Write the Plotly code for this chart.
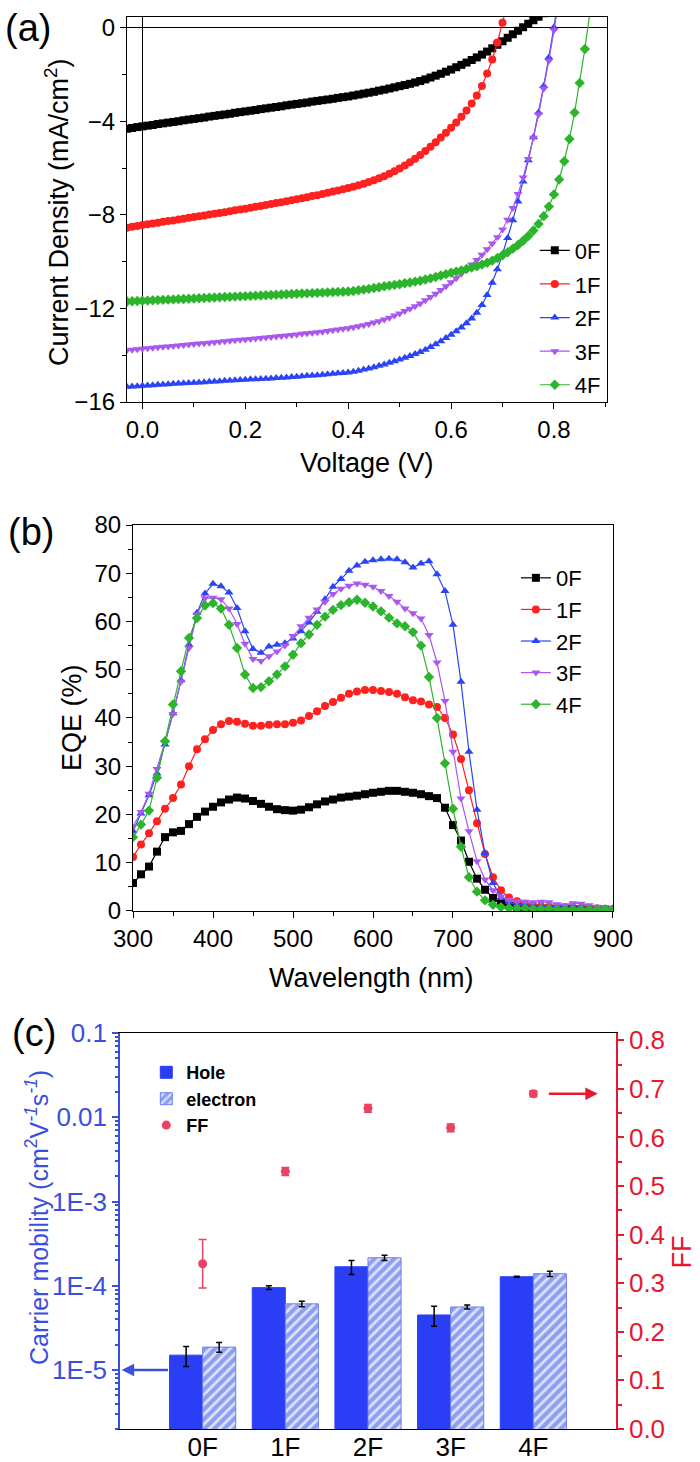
import plotly.graph_objects as go

FONT = 'Liberation Sans, Arial, sans-serif'

SAMPLES = ['0F', '1F', '2F', '3F', '4F']
COLORS = {'0F': '#000000', '1F': '#ff2020', '2F': '#2a45f5', '3F': '#a957ef', '4F': '#2db42d'}
SYMBOLS = {'0F': 'square', '1F': 'circle', '2F': 'triangle-up', '3F': 'triangle-down', '4F': 'diamond'}

# ---- (a) J-V curves ----
VOLTAGE = [-0.03, -0.02, -0.01, 0.00, 0.01, 0.02, 0.03, 0.04, 0.05, 0.06, 0.07, 0.08, 0.09,
           0.10, 0.11, 0.12, 0.13, 0.14, 0.15, 0.16, 0.17, 0.18, 0.19, 0.20, 0.21, 0.22, 0.23,
           0.24, 0.25, 0.26, 0.27, 0.28, 0.29, 0.30, 0.31, 0.32, 0.33, 0.34, 0.35, 0.36, 0.37,
           0.38, 0.39, 0.40, 0.41, 0.42, 0.43, 0.44, 0.45, 0.46, 0.47, 0.48, 0.49, 0.50, 0.51,
           0.52, 0.53, 0.54, 0.55, 0.56, 0.57, 0.58, 0.59, 0.60, 0.61, 0.62, 0.63, 0.64, 0.65,
           0.66, 0.67, 0.68, 0.69, 0.70, 0.71, 0.72, 0.73, 0.74, 0.75, 0.76, 0.77, 0.78, 0.79,
           0.80, 0.81, 0.82, 0.83, 0.84, 0.85, 0.86, 0.87]

J_0F = [-4.31, -4.28, -4.24, -4.21, -4.18, -4.15, -4.11, -4.08, -4.05, -4.02, -3.99, -3.95, -3.92,
        -3.89, -3.86, -3.83, -3.79, -3.76, -3.73, -3.70, -3.67, -3.63, -3.60, -3.57, -3.54, -3.51,
        -3.47, -3.44, -3.41, -3.38, -3.35, -3.31, -3.28, -3.25, -3.22, -3.19, -3.15, -3.12, -3.09,
        -3.06, -3.03, -2.99, -2.96, -2.93, -2.89, -2.85, -2.81, -2.77, -2.73, -2.68, -2.64, -2.59,
        -2.54, -2.49, -2.44, -2.39, -2.33, -2.27, -2.20, -2.12, -2.04, -1.96, -1.87, -1.78, -1.68,
        -1.58, -1.48, -1.37, -1.26, -1.14, -1.01, -0.87, -0.72, -0.57, -0.42, -0.27, -0.12, 0.03,
        0.18, 0.33, 0.48, 0.63]

J_1F = [-8.54, -8.50, -8.47, -8.43, -8.40, -8.36, -8.33, -8.29, -8.26, -8.23, -8.19, -8.16, -8.12,
        -8.09, -8.05, -8.02, -7.98, -7.95, -7.91, -7.88, -7.84, -7.80, -7.77, -7.73, -7.69, -7.65,
        -7.61, -7.57, -7.53, -7.49, -7.45, -7.41, -7.37, -7.33, -7.28, -7.24, -7.19, -7.15, -7.10,
        -7.05, -7.00, -6.95, -6.90, -6.85, -6.79, -6.73, -6.66, -6.59, -6.51, -6.43, -6.34, -6.24,
        -6.13, -6.01, -5.88, -5.74, -5.59, -5.43, -5.26, -5.08, -4.89, -4.69, -4.48, -4.27, -4.04,
        -3.80, -3.53, -3.23, -2.89, -2.48, -1.95, -1.35, -0.62, 0.22, 1.10]

J_2F = [-15.35, -15.34, -15.32, -15.30, -15.29, -15.28, -15.26, -15.25, -15.24, -15.22, -15.21,
        -15.20, -15.18, -15.17, -15.16, -15.15, -15.13, -15.12, -15.11, -15.09, -15.08, -15.07,
        -15.06, -15.05, -15.03, -15.02, -15.01, -15.00, -14.99, -14.97, -14.96, -14.95, -14.93,
        -14.92, -14.90, -14.88, -14.86, -14.85, -14.83, -14.81, -14.79, -14.77, -14.76, -14.74,
        -14.70, -14.66, -14.61, -14.56, -14.51, -14.45, -14.39, -14.32, -14.25, -14.18, -14.11,
        -14.03, -13.95, -13.86, -13.76, -13.65, -13.53, -13.40, -13.26, -13.12, -12.97, -12.81,
        -12.63, -12.43, -12.18, -11.85, -11.42, -10.90, -10.32, -9.68, -8.98, -8.22, -7.42, -6.57,
        -5.66, -4.68, -3.62, -2.48, -1.26, 0.03, 1.40]

J_3F = [-13.78, -13.76, -13.74, -13.72, -13.70, -13.68, -13.66, -13.64, -13.62, -13.60, -13.58,
        -13.56, -13.54, -13.52, -13.50, -13.48, -13.46, -13.44, -13.42, -13.40, -13.38, -13.36,
        -13.34, -13.32, -13.30, -13.28, -13.26, -13.24, -13.22, -13.20, -13.17, -13.15, -13.13,
        -13.11, -13.08, -13.06, -13.04, -13.01, -12.99, -12.96, -12.93, -12.90, -12.87, -12.84,
        -12.80, -12.76, -12.71, -12.66, -12.60, -12.54, -12.47, -12.39, -12.30, -12.21, -12.11,
        -12.01, -11.90, -11.78, -11.65, -11.51, -11.37, -11.21, -11.05, -10.88, -10.70, -10.51,
        -10.32, -10.12, -9.92, -9.70, -9.47, -9.22, -8.95, -8.62, -8.20, -7.70, -7.10, -6.40,
        -5.60, -4.70, -3.70, -2.60, -1.40, -0.10, 1.25]

J_4F = [-11.70, -11.69, -11.68, -11.67, -11.66, -11.65, -11.64, -11.63, -11.62, -11.61, -11.60,
        -11.59, -11.58, -11.57, -11.56, -11.55, -11.54, -11.53, -11.52, -11.51, -11.50, -11.49,
        -11.48, -11.47, -11.46, -11.45, -11.44, -11.43, -11.42, -11.41, -11.40, -11.39, -11.38,
        -11.37, -11.36, -11.35, -11.34, -11.33, -11.32, -11.31, -11.30, -11.29, -11.28, -11.27,
        -11.25, -11.22, -11.19, -11.16, -11.12, -11.09, -11.05, -11.02, -10.99, -10.96, -10.92,
        -10.89, -10.85, -10.81, -10.76, -10.71, -10.65, -10.59, -10.53, -10.47, -10.42, -10.37,
        -10.31, -10.25, -10.19, -10.12, -10.04, -9.95, -9.84, -9.72, -9.59, -9.44, -9.28, -9.10,
        -8.90, -8.66, -8.38, -8.05, -7.64, -7.12, -6.48, -5.70, -4.75, -3.62, -2.35, -0.90, 0.70]

# ---- (b) EQE spectra ----
WAVELENGTH = [300, 310, 320, 330, 340, 350, 360, 370, 380, 390, 400, 410, 420, 430, 440, 450,
              460, 470, 480, 490, 500, 510, 520, 530, 540, 550, 560, 570, 580, 590, 600, 610,
              620, 630, 640, 650, 660, 670, 680, 690, 700, 710, 720, 730, 740, 750, 760, 770,
              780, 790, 800, 810, 820, 830, 840, 850, 860, 870, 880, 890, 900]

EQE_0F = [5.8, 7.6, 9.2, 12.3, 15.3, 16.3, 16.6, 18.0, 19.5, 20.6, 21.6, 22.5, 23.1, 23.5, 23.3,
          22.8, 22.2, 21.6, 21.1, 20.9, 20.8, 21.0, 21.5, 22.1, 22.7, 23.1, 23.5, 23.7, 23.9, 24.2,
          24.5, 24.7, 24.9, 24.9, 24.7, 24.5, 24.2, 23.8, 23.4, 21.4, 17.8, 14.6, 10.2, 6.7, 4.4,
          2.7, 1.6, 1.1, 0.8, 0.7, 0.6, 0.5, 0.5, 0.4, 0.4, 0.4, 0.3, 0.3, 0.3, 0.2, 0.2]
EQE_1F = [11.2, 13.8, 16.1, 18.6, 21.2, 23.4, 26.2, 30.0, 33.5, 35.6, 37.5, 38.7, 39.4, 39.2, 38.8,
          38.4, 38.4, 38.6, 38.7, 38.7, 39.0, 39.5, 40.4, 41.4, 42.5, 43.3, 44.2, 45.0, 45.5, 45.8,
          45.8, 45.6, 45.4, 45.0, 44.3, 43.7, 43.4, 42.8, 42.3, 40.0, 36.6, 31.5, 25.0, 18.2, 11.8,
          7.0, 4.3, 2.8, 2.0, 1.5, 1.2, 1.0, 0.9, 0.8, 0.7, 0.7, 0.6, 0.5, 0.5, 0.4, 0.4]
EQE_2F = [16.5, 20.2, 24.0, 28.5, 34.5, 41.0, 47.8, 55.2, 61.8, 65.8, 67.8, 67.3, 66.0, 62.8, 58.0,
          54.3, 53.5, 54.8, 55.2, 55.5, 56.5, 58.0, 59.8, 62.0, 64.6, 67.2, 68.8, 70.5, 71.6, 72.4,
          72.7, 72.9, 73.0, 72.9, 72.3, 71.2, 72.0, 72.5, 69.8, 66.3, 59.3, 47.5, 33.0, 21.0, 12.0,
          5.8, 2.8, 1.8, 1.4, 1.2, 1.1, 1.0, 0.9, 0.8, 0.8, 0.9, 0.8, 0.6, 0.5, 0.5, 0.4]
EQE_3F = [17.5, 20.5, 24.3, 29.4, 35.0, 40.8, 47.5, 54.5, 61.5, 64.8, 64.9, 64.6, 62.7, 59.5, 55.4,
          52.2, 51.8, 52.8, 53.8, 55.0, 57.0, 59.0, 60.8, 62.5, 64.1, 65.7, 66.8, 67.4, 67.9, 67.6,
          67.2, 66.3, 65.3, 64.1, 62.7, 61.7, 60.6, 57.2, 51.5, 43.5, 33.0, 23.3, 16.5, 10.3, 6.5,
          4.3, 3.0, 2.3, 2.0, 1.9, 1.8, 1.9, 1.8, 1.4, 1.2, 1.6, 1.5, 1.2, 0.9, 0.8, 0.6]
EQE_4F = [15.3, 17.9, 20.8, 27.6, 35.2, 42.8, 49.7, 56.6, 60.7, 63.3, 63.8, 62.7, 59.3, 54.5, 49.0,
          46.2, 46.4, 47.6, 49.0, 50.7, 53.1, 55.5, 57.3, 59.3, 61.0, 62.4, 63.4, 64.0, 64.5, 63.9,
          63.1, 62.1, 60.8, 59.6, 59.0, 57.8, 55.0, 48.5, 40.0, 30.6, 21.2, 13.3, 7.0, 4.0, 2.2,
          1.3, 0.8, 0.6, 0.5, 0.5, 0.4, 0.4, 0.4, 0.3, 0.3, 0.3, 0.3, 0.3, 0.3, 0.3, 0.3]

# ---- (c) mobility and FF ----
HOLE = [1.5e-5, 9.5e-5, 1.68e-4, 4.5e-5, 1.28e-4]
HOLE_ERR = [0.4e-5, 0.5e-5, 0.32e-4, 1.2e-5, 0.02e-4]
ELECTRON = [1.87e-5, 6.1e-5, 2.15e-4, 5.6e-5, 1.39e-4]
ELECTRON_ERR = [0.25e-5, 0.45e-5, 0.15e-4, 0.3e-5, 0.1e-4]
FF = [0.34, 0.53, 0.66, 0.62, 0.69]
FF_ERR = [0.05, 0.008, 0.008, 0.008, 0.006]

BLUE_AX = '#3a4fe0'
RED_AX = '#e8182e'
FF_COLOR = '#ea4262'

fig = go.Figure()

jv = {'0F': J_0F, '1F': J_1F, '2F': J_2F, '3F': J_3F, '4F': J_4F}
for name in SAMPLES:
    j = jv[name]
    fig.add_trace(go.Scatter(
        x=VOLTAGE[:len(j)], y=j, name=name, mode='lines+markers',
        xaxis='x', yaxis='y', legend='legend', legendgroup='a' + name,
        line=dict(color=COLORS[name], width=1.2),
        marker=dict(symbol=SYMBOLS[name], color=COLORS[name], size=8),
    ))

eqe = {'0F': EQE_0F, '1F': EQE_1F, '2F': EQE_2F, '3F': EQE_3F, '4F': EQE_4F}
for name in SAMPLES:
    fig.add_trace(go.Scatter(
        x=WAVELENGTH, y=eqe[name], name=name, mode='lines+markers',
        xaxis='x2', yaxis='y2', legend='legend2', legendgroup='b' + name,
        line=dict(color=COLORS[name], width=1.2),
        marker=dict(symbol=SYMBOLS[name], color=COLORS[name], size=8),
    ))

fig.add_trace(go.Bar(
    x=SAMPLES, y=HOLE, name='Hole', xaxis='x3', yaxis='y3', legend='legend3',
    marker=dict(color='#2a3ff5', line=dict(color='#2a3ff5', width=1)),
    error_y=dict(type='data', array=HOLE_ERR, color='black', thickness=1.5, width=3),
))
fig.add_trace(go.Bar(
    x=SAMPLES, y=ELECTRON, name='electron', xaxis='x3', yaxis='y3', legend='legend3',
    marker=dict(color='#8d9ef0', line=dict(color='#6a7ff0', width=1),
                pattern=dict(shape='/', bgcolor='#8d9ef0', fgcolor='#dde2fb', size=7, solidity=0.4)),
    error_y=dict(type='data', array=ELECTRON_ERR, color='black', thickness=1.5, width=3),
))
fig.add_trace(go.Scatter(
    x=SAMPLES, y=FF, name='FF', mode='markers', xaxis='x3', yaxis='y4', legend='legend3',
    marker=dict(color=FF_COLOR, size=9),
    error_y=dict(type='data', array=FF_ERR, color=FF_COLOR, thickness=1.5, width=4),
))

tickfont = dict(family=FONT, size=24, color='black')
base_ax = dict(showgrid=False, showline=True, linecolor='black', linewidth=1.2,
               ticks='outside', ticklen=6, tickwidth=1.2, tickcolor='black', tickfont=tickfont)

minor_log = [m * 10.0 ** e for e in range(-6, -1) for m in range(2, 10)]

fig.update_layout(
    width=700, height=1462, autosize=False, margin=dict(l=0, r=0, t=0, b=0),
    template='none', paper_bgcolor='white', plot_bgcolor='white',
    font=dict(family=FONT, color='black'),
    barmode='group', bargap=0.2, bargroupgap=0,
    xaxis=dict(base_ax, domain=[0.1814, 0.8671], anchor='y', range=[-0.03, 0.903],
               tick0=0, dtick=0.2, tickformat='.1f', mirror=True,
               minor=dict(dtick=0.1, ticks='outside', ticklen=4, tickcolor='black'),
               zeroline=True, zerolinecolor='black', zerolinewidth=1.2),
    yaxis=dict(base_ax, domain=[0.725, 0.9884], anchor='x', range=[-16, 0.47],
               tick0=0, dtick=4, mirror=True,
               minor=dict(dtick=2, ticks='outside', ticklen=4, tickcolor='black'),
               zeroline=True, zerolinecolor='black', zerolinewidth=1.2),
    xaxis2=dict(base_ax, domain=[0.19, 0.8757], anchor='y2', range=[300, 900],
                dtick=100, mirror=True, zeroline=False,
                minor=dict(dtick=50, ticks='outside', ticklen=4, tickcolor='black')),
    yaxis2=dict(base_ax, domain=[0.3769, 0.6409], anchor='x2', range=[0, 80],
                dtick=10, mirror=True, zeroline=False,
                minor=dict(dtick=5, ticks='outside', ticklen=4, tickcolor='black')),
    xaxis3=dict(showgrid=False, showline=True, linecolor='black', linewidth=1.2, mirror=True,
                domain=[0.1714, 0.88], anchor='y3', type='category', range=[-1, 5],
                ticks='', ticklabelstandoff=-5,
                tickfont=dict(family=FONT, size=26, color='black')),
    yaxis3=dict(showgrid=False, showline=True, linecolor=BLUE_AX, linewidth=1.5,
                domain=[0.0226, 0.2934], anchor='x3', type='log', range=[-5.7, -1],
                tickvals=[1e-5, 1e-4, 1e-3, 1e-2, 1e-1],
                ticktext=['1E-5', '1E-4', '1E-3', '0.01', '0.1'],
                ticks='outside', ticklen=6, tickwidth=1.5, tickcolor=BLUE_AX,
                tickfont=dict(family=FONT, size=26, color=BLUE_AX),
                minor=dict(tickvals=minor_log, ticks='outside', ticklen=3, tickcolor=BLUE_AX),
                zeroline=False),
    yaxis4=dict(showgrid=False, showline=True, linecolor=RED_AX, linewidth=1.5,
                overlaying='y3', side='right', anchor='x3', range=[0, 0.815],
                tick0=0, dtick=0.1, tickformat='.1f',
                ticks='outside', ticklen=6, tickwidth=1.5, tickcolor=RED_AX,
                tickfont=dict(family=FONT, size=26, color=RED_AX),
                minor=dict(dtick=0.05, ticks='outside', ticklen=4, tickcolor=RED_AX),
                zeroline=False),
    legend=dict(x=0.764, y=0.843, xanchor='left', yanchor='top', bgcolor='rgba(0,0,0,0)',
                font=dict(family=FONT, size=22, color='black'), tracegroupgap=2),
    legend2=dict(x=0.737, y=0.619, xanchor='left', yanchor='top', bgcolor='rgba(0,0,0,0)',
                 font=dict(family=FONT, size=22, color='black'), tracegroupgap=0),
    legend3=dict(x=0.209, y=0.279, xanchor='left', yanchor='top', bgcolor='rgba(0,0,0,0)',
                 font=dict(family=FONT, size=18, color='black', weight='bold')),
)

ann = []
def label(text, x, y, size, color='black', angle=0):
    ann.append(dict(text=text, x=x, y=y, xref='paper', yref='paper', showarrow=False,
                    textangle=angle, xanchor='center', yanchor='middle',
                    font=dict(family=FONT, size=size, color=color)))

label('(a)', 0.04, 0.981, 38)
label('(b)', 0.044, 0.636, 38)
label('(c)', 0.0486, 0.2934, 38)
label('Current Density (mA/cm<sup>2</sup>)', 0.0814, 0.855, 27, angle=-90)
label('Voltage (V)', 0.524, 0.6833, 27)
label('EQE (%)', 0.103, 0.5089, 27, angle=-90)
label('Wavelength (nm)', 0.53, 0.331, 27)
label('Carrier mobility (cm<sup>2</sup>V<sup><i>-1</i></sup>s<sup><i>-1</i></sup>)',
      0.053, 0.167, 25, color=BLUE_AX, angle=-90)
label('FF', 0.975, 0.1436, 27, color=RED_AX, angle=-90)

# arrows pointing to the relevant axes
ann.append(dict(x=-0.98, y=-5, xref='x3', yref='y3', ax=-0.4, ay=-5, axref='x3', ayref='y3',
                text='', showarrow=True, arrowhead=2, arrowsize=1, arrowwidth=2.5,
                arrowcolor=BLUE_AX))
ann.append(dict(x=4.78, y=0.69, xref='x3', yref='y4', ax=4.17, ay=0.69, axref='x3', ayref='y4',
                text='', showarrow=True, arrowhead=2, arrowsize=1, arrowwidth=2.5,
                arrowcolor=RED_AX))
fig.update_layout(annotations=ann)

# page body has a default 8px margin; remove it so the figure fills the window
fig.write_html('out.html', config={'displayModeBar': False},
               post_script="document.body.style.margin='0px';")
